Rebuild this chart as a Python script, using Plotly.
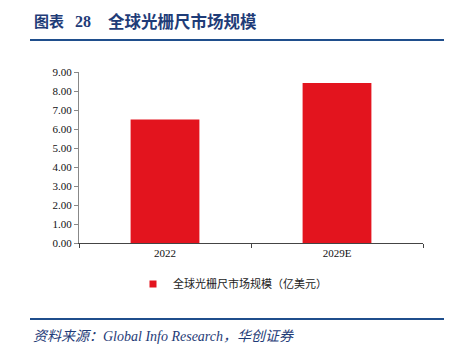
import plotly.graph_objects as go

categories = ["2022", "2029E"]
values = [6.50, 8.42]
series_name = "全球光栅尺市场规模（亿美元）"
y_ticks = [0, 1, 2, 3, 4, 5, 6, 7, 8, 9]

W, H = 455, 348
L, R, T, B = 79, 32, 72, 105
pw, ph = W - L - R, H - T - B
RED = "#E3141E"
SERIF = "'Times New Roman', 'Liberation Serif', serif"
TITLE_FONT = "'Liberation Serif', 'Noto Sans CJK SC'"
NAVY = "#1F3C78"

def px(x):
    return (x - L) / pw

def py(y):
    return (H - B - y) / ph

fig = go.Figure()
fig.add_trace(go.Bar(
    x=categories, y=values, name=series_name, showlegend=False,
    marker=dict(color=RED, line=dict(width=0)),
    width=0.4,
))
# legend entry with small square symbol
fig.add_trace(go.Scatter(
    x=[None], y=[None], mode="markers", name=series_name,
    marker=dict(symbol="square", size=7, color=RED),
))

fig.update_layout(
    width=W, height=H,
    margin=dict(l=L, r=R, t=T, b=B),
    paper_bgcolor="white", plot_bgcolor="white",
    showlegend=True,
    legend=dict(orientation="h", x=px(133), xanchor="left", y=py(284), yanchor="middle",
                font=dict(family="Noto Sans CJK SC", size=11, color="#222"),
                itemwidth=30),
)
fig.update_xaxes(
    type="category", showline=True, linecolor="#444", linewidth=1,
    ticks="outside", tickson="boundaries", ticklen=4, tickcolor="#444",
    tickfont=dict(family=SERIF, size=11, color="#111"),
    showgrid=False, zeroline=False,
)
fig.update_yaxes(
    range=[0, 9], tickvals=y_ticks, ticktext=[f"{v:.2f}" for v in y_ticks],
    showline=True, linecolor="#888", linewidth=1,
    ticks="outside", ticklen=4, tickcolor="#888",
    tickfont=dict(family=SERIF, size=11, color="#111"),
    showgrid=False, zeroline=False,
)

blue = "#1F4E8C"
fig.add_shape(type="line", xref="paper", yref="paper", x0=px(30), x1=px(444), y0=py(40), y1=py(40),
              line=dict(color=blue, width=2))
fig.add_shape(type="line", xref="paper", yref="paper", x0=px(30), x1=px(444), y0=py(319), y1=py(319),
              line=dict(color=blue, width=2))
title_parts = [("图表", 32, 15), ("28", 73, 16), ("全球光栅尺市场规模", 106, 16.5)]
for txt, x0, sz in title_parts:
    fig.add_annotation(xref="paper", yref="paper", x=px(x0), y=py(22), xanchor="left", yanchor="middle",
                       text=f"<b>{txt}</b>", showarrow=False,
                       font=dict(family=TITLE_FONT, size=sz, color=NAVY))
fig.add_annotation(xref="paper", yref="paper", x=px(31), y=py(336), xanchor="left", yanchor="middle",
                   text="<i>资料来源：Global Info Research，华创证券</i>", showarrow=False,
                   font=dict(family=TITLE_FONT, size=14, color=NAVY))

fig.write_html("out.html")
